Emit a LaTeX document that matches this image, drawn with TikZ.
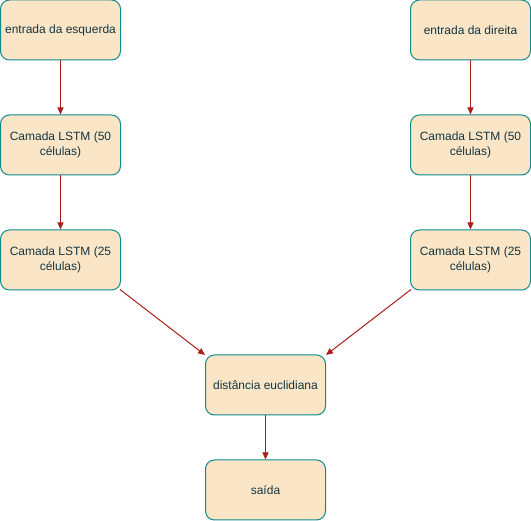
\documentclass[tikz,border=0pt]{standalone}
\usepackage{fontspec}
\setmainfont{Liberation Sans}
\usetikzlibrary{arrows.meta}
\definecolor{boxfill}{HTML}{FAE5C7}
\definecolor{boxline}{HTML}{0F8B8D}
\definecolor{boxtext}{HTML}{143642}
\definecolor{arrowc}{HTML}{A8201A}
\begin{document}
\begin{tikzpicture}[x=1pt,y=-1pt,
  blk/.style={draw=boxline, fill=boxfill, rounded corners=9pt, line width=1pt,
    minimum width=120pt, minimum height=60pt, inner sep=0pt, align=center,
    text=boxtext, font=\fontsize{12pt}{14.5pt}\selectfont},
  arr/.style={draw=arrowc, line width=1pt, -{Triangle[width=6pt,length=7pt]}}]
\useasboundingbox (0,0) rectangle (531,521);
\node[blk] (l1) at (60.5,30) {entrada da esquerda};
\node[blk] (l2) at (60.5,145) {Camada LSTM (50\\células)};
\node[blk] (l3) at (60.5,260) {Camada LSTM (25\\células)};
\node[blk] (r1) at (470.5,30) {entrada da direita};
\node[blk] (r2) at (470.5,145) {Camada LSTM (50\\células)};
\node[blk] (r3) at (470.5,260) {Camada LSTM (25\\células)};
\node[blk] (d) at (265.5,385) {distância euclidiana};
\node[blk] (s) at (265.5,490) {saída};
\draw[arr] (l1) -- (l2);
\draw[arr] (l2) -- (l3);
\draw[arr] (r1) -- (r2);
\draw[arr] (r2) -- (r3);
\draw[arr] ([xshift=-1pt,yshift=1pt]l3.south east) -- ([xshift=0pt,yshift=-0.5pt]d.north west);
\draw[arr] ([xshift=1pt,yshift=1pt]r3.south west) -- ([xshift=0pt,yshift=-0.5pt]d.north east);
\draw[arr] (d) -- (s);
\end{tikzpicture}
\end{document}
